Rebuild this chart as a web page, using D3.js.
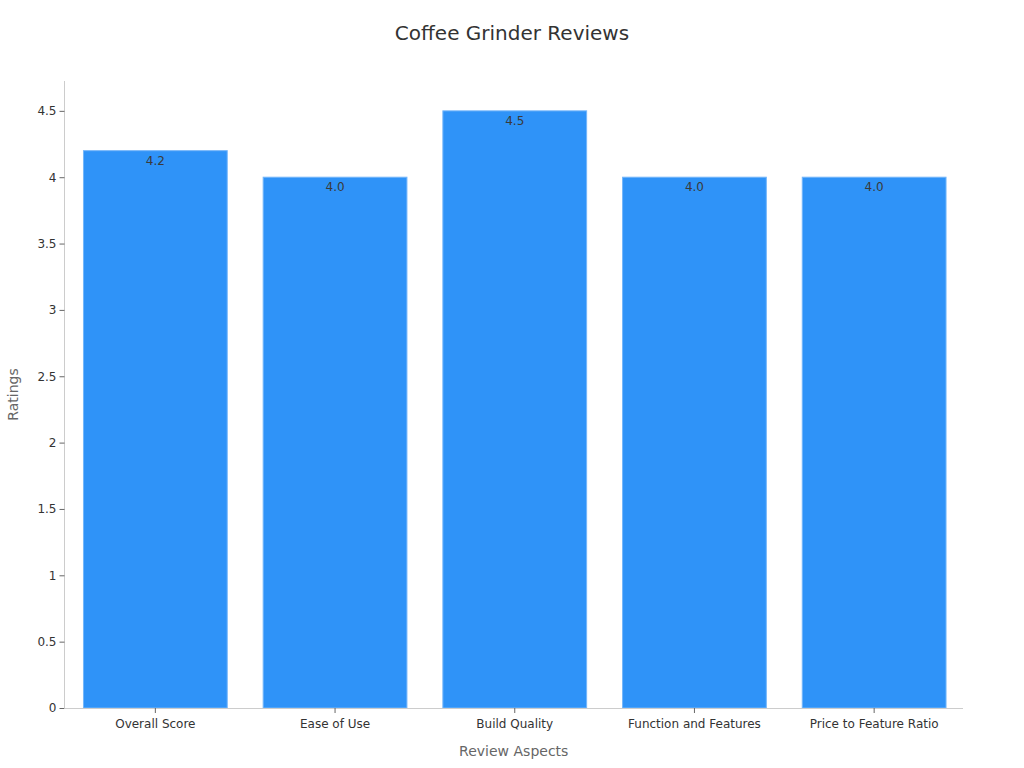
<!DOCTYPE html>
<html><head><meta charset="utf-8">
<script src="https://cdn.jsdelivr.net/npm/d3@7"></script>
<style>body{margin:0;background:#fff;font-family:"DejaVu Sans",sans-serif;}</style>
</head><body>
<svg id="c" width="1024" height="768"></svg>
<script>
const categories = ["Overall Score","Ease of Use","Build Quality","Function and Features","Price to Feature Ratio"];
const ratings = [4.2, 4.0, 4.5, 4.0, 4.0];
const yTicks = [0,0.5,1,1.5,2,2.5,3,3.5,4,4.5];

const svg = d3.select("#c");
const m = {l:64.5, r:963, t:81, b:708};
const x = d3.scaleBand().domain(categories).range([m.l + 1, m.r + 1]).paddingInner(0.2).paddingOuter(0.1);
const y = d3.scaleLinear().domain([0, 4.725]).range([m.b, m.t]);

svg.append("text").attr("x",512).attr("y",40).attr("text-anchor","middle")
  .attr("font-size",20).attr("fill","#333").text("Coffee Grinder Reviews");

svg.append("g").selectAll("rect").data(ratings).join("rect")
  .attr("x",(d,i)=>x(categories[i])).attr("y",d=>y(d))
  .attr("width",x.bandwidth()).attr("height",d=>y(0)-y(d))
  .attr("fill","#2f93f8").attr("stroke","#74b6fa").attr("stroke-width",1);

svg.append("g").selectAll("text").data(ratings).join("text")
  .attr("x",(d,i)=>x(categories[i])+x.bandwidth()/2).attr("y",d=>y(d)+14)
  .attr("text-anchor","middle").attr("font-size",12).attr("fill","#3a3a3a")
  .text(d=>d.toFixed(1));

const ya = svg.append("g").attr("transform",`translate(${m.l},0)`)
  .call(d3.axisLeft(y).tickValues(yTicks).tickSize(5).tickFormat(d=>String(d)));
ya.select(".domain").attr("stroke","#ccc").attr("d",`M0,${m.t}V${m.b}`);
ya.selectAll(".tick line").attr("stroke","#666");
ya.selectAll(".tick text").attr("font-size",12).attr("fill","#333").attr("font-family","DejaVu Sans");

const xa = svg.append("g").attr("transform",`translate(0,${m.b})`)
  .call(d3.axisBottom(x).tickSize(5).tickSizeOuter(0));
xa.select(".domain").attr("stroke","#ccc").attr("d",`M${m.l},0.5H${m.r}`);
xa.selectAll(".tick line").attr("stroke","#666");
xa.selectAll(".tick text").attr("font-size",12).attr("fill","#333").attr("dy","1.0em").attr("font-family","DejaVu Sans");

svg.append("text").attr("x",(m.l+m.r)/2).attr("y",756).attr("text-anchor","middle")
  .attr("font-size",14).attr("fill","#666").text("Review Aspects");
svg.append("text").attr("transform",`translate(18,${(m.t+m.b)/2}) rotate(-90)`).attr("text-anchor","middle")
  .attr("font-size",14).attr("fill","#666").text("Ratings");
</script>
</body></html>
